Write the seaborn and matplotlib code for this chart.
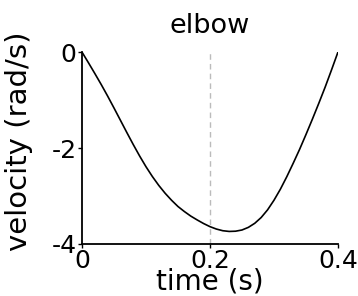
import pandas as pd
import matplotlib
matplotlib.use("Agg")
import matplotlib.pyplot as plt
import seaborn as sns

# elbow angular velocity over the movement
time_s = [0.00, 0.01, 0.02, 0.03, 0.04, 0.05, 0.06, 0.07, 0.08, 0.09, 0.10,
          0.11, 0.12, 0.13, 0.14, 0.15, 0.16, 0.17, 0.18, 0.19, 0.20,
          0.21, 0.22, 0.23, 0.24, 0.25, 0.26, 0.27, 0.28, 0.29, 0.30,
          0.31, 0.32, 0.33, 0.34, 0.35, 0.36, 0.37, 0.38, 0.39, 0.40]
velocity = [0.0, -0.22, -0.445, -0.675, -0.915, -1.165, -1.42, -1.675, -1.925, -2.165, -2.39,
            -2.595, -2.78, -2.945, -3.09, -3.22, -3.325, -3.42, -3.50, -3.575, -3.64,
            -3.69, -3.725, -3.74, -3.735, -3.71, -3.655, -3.57, -3.45, -3.29, -3.09,
            -2.86, -2.60, -2.32, -2.03, -1.72, -1.40, -1.07, -0.73, -0.37, 0.0]
xticks = [0, 0.2, 0.4]
xticklabels = ["0", "0.2", "0.4"]
yticks = [0, -2, -4]
yticklabels = ["0", "-2", "-4"]
marker_time = 0.2

df = pd.DataFrame({"time": time_s, "velocity": velocity})

sns.set_style("white")
plt.rcParams["font.family"] = ["DejaVu Sans"]
plt.rcParams["text.color"] = "black"
plt.rcParams["axes.labelcolor"] = "black"

fig = plt.figure(figsize=(3.58, 2.96), dpi=100)
ax = fig.add_axes([0.229, 0.176, 0.715, 0.648])

ax.axvline(marker_time, color="#bbbbbb", lw=1, ls=(0, (4, 3)), zorder=1)
sns.lineplot(data=df, x="time", y="velocity", color="black", lw=1.2, ax=ax, zorder=2)

ax.set_xlim(0, 0.4)
ax.set_ylim(-4, 0)
ax.set_xticks(xticks)
ax.set_xticklabels(xticklabels)
ax.set_yticks(yticks)
ax.set_yticklabels(yticklabels)
ax.tick_params(axis="both", labelsize=18, length=3, width=1, direction="out",
               pad=1, colors="black", left=True, bottom=True)

for side in ["top", "right"]:
    ax.spines[side].set_visible(False)
for side in ["left", "bottom"]:
    ax.spines[side].set_color("black")
    ax.spines[side].set_linewidth(1.3)

ax.set_xlabel("time (s)", fontsize=20, labelpad=-4)
ax.set_ylabel("velocity (rad/s)", fontsize=21)
ax.yaxis.set_label_coords(-0.19, 0.535)
ax.set_title("elbow", fontsize=19.5, pad=14)

fig.savefig("out.png", dpi=100)
